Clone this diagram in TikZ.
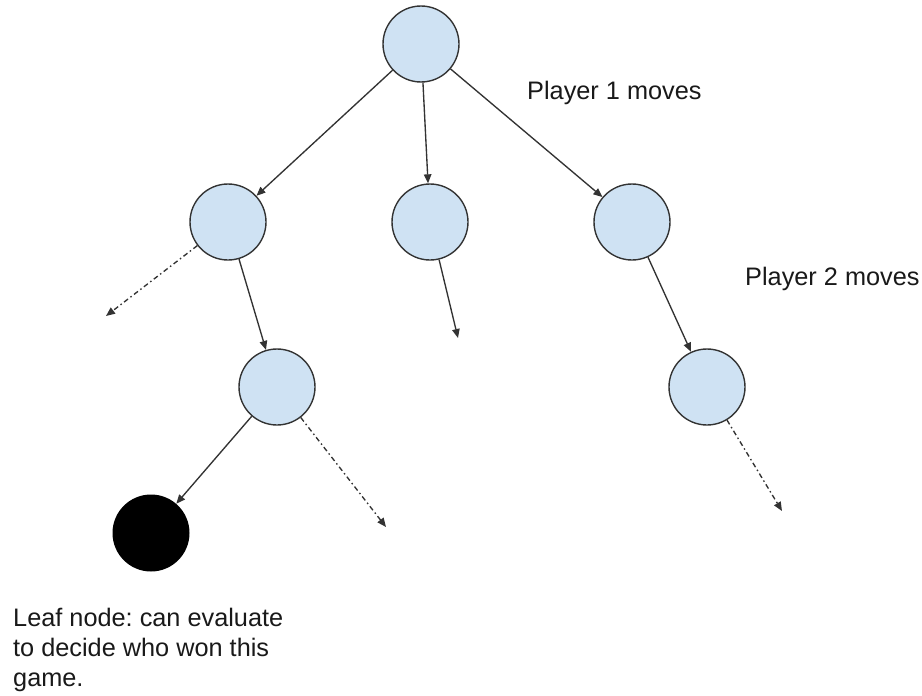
\documentclass[tikz,border=0pt]{standalone}
\usepackage{fontspec}
\setmainfont{Liberation Sans}
\usetikzlibrary{arrows.meta}
\definecolor{nodefill}{HTML}{CFE2F3}
\definecolor{inkgray}{HTML}{333333}
\begin{document}
\frenchspacing
\begin{tikzpicture}[x=1pt,y=-1pt,
  state/.style={circle,draw=inkgray,line width=1.4pt,fill=nodefill,minimum size=76pt,inner sep=0pt},
  leaf/.style={circle,fill=black,minimum size=77pt,inner sep=0pt},
  move/.style={draw=inkgray,line width=1.35pt,-{Triangle[length=9pt,width=7.5pt]}},
  other/.style={move,dash pattern=on 5pt off 3pt on 1.5pt off 3pt},
  caption/.style={inner sep=0pt,text=black!90,font=\fontsize{25.3}{30}\selectfont}
]
\useasboundingbox (0,0) rectangle (922,696);

% game tree nodes
\node[state] (root) at (421,44)  {};
\node[state] (a)    at (228,222) {};
\node[state] (b)    at (430,222) {};
\node[state] (c)    at (632,222) {};
\node[state] (d)    at (277,387) {};
\node[state] (e)    at (707,387) {};
\node[leaf]  (leaf) at (151,533) {};

% loose ends of branches that are not expanded
\coordinate (aout) at (106,316);
\coordinate (bout) at (458,338);
\coordinate (dout) at (386,527);
\coordinate (eout) at (782,511);

% player 1 moves
\draw[move] (root) -- (a);
\draw[move] (root) -- (b);
\draw[move] (root) -- (c);

% player 2 moves
\draw[other] (a) -- (aout);
\draw[move]  (a) -- (d);
\draw[move]  (b) -- (bout);
\draw[move]  (c) -- (e);

% deeper moves
\draw[move]  (d) -- (leaf);
\draw[other] (d) -- (dout);
\draw[other] (e) -- (eout);

% labels
\node[caption,anchor=base west] (p1) at (527,99)  {Player 1 moves};
\node[caption,anchor=base west] (p2) at (745,285) {Player 2 moves};
\node[caption,anchor=north west,align=left] (note) at (13,608)
  {Leaf node: can evaluate\\to decide who won this\\game.};
\end{tikzpicture}
\end{document}
